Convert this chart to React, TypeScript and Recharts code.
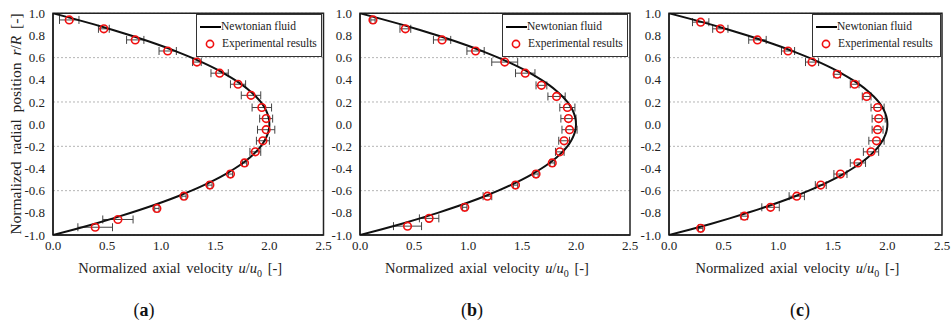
import React from 'react';
import {
  ScatterChart,
  Scatter,
  XAxis,
  YAxis,
  CartesianGrid,
  ErrorBar,
  Legend,
  ReferenceArea,
  Label,
} from 'recharts';

// radial positions r/R, axial velocities u/u0 and half-width of the error bars
const rA = [0.94, 0.86, 0.76, 0.66, 0.56, 0.46, 0.36, 0.26, 0.15, 0.05, -0.05, -0.15, -0.25, -0.35, -0.45, -0.55, -0.65, -0.76, -0.86, -0.93];
const uA = [0.15, 0.47, 0.76, 1.06, 1.33, 1.54, 1.71, 1.83, 1.93, 1.97, 1.97, 1.94, 1.87, 1.77, 1.64, 1.45, 1.21, 0.96, 0.6, 0.39];
const errA = [0.09, 0.05, 0.08, 0.08, 0.04, 0.08, 0.07, 0.09, 0.09, 0.06, 0.08, 0.06, 0.05, 0.02, 0.02, 0.02, 0.02, 0.02, 0.14, 0.16];

const rB = [0.94, 0.86, 0.76, 0.66, 0.56, 0.46, 0.35, 0.25, 0.15, 0.05, -0.05, -0.15, -0.25, -0.35, -0.45, -0.55, -0.65, -0.75, -0.85, -0.92];
const uB = [0.12, 0.42, 0.76, 1.07, 1.34, 1.53, 1.68, 1.82, 1.92, 1.93, 1.94, 1.89, 1.85, 1.78, 1.63, 1.44, 1.18, 0.97, 0.64, 0.44];
const errB = [0.02, 0.05, 0.08, 0.08, 0.12, 0.09, 0.05, 0.08, 0.07, 0.07, 0.07, 0.05, 0.04, 0.02, 0.02, 0.02, 0.04, 0.02, 0.09, 0.13];

const rC = [0.92, 0.86, 0.76, 0.66, 0.56, 0.45, 0.36, 0.25, 0.15, 0.05, -0.05, -0.15, -0.25, -0.35, -0.45, -0.55, -0.65, -0.75, -0.83, -0.94];
const uC = [0.29, 0.47, 0.81, 1.09, 1.31, 1.54, 1.7, 1.81, 1.91, 1.92, 1.91, 1.9, 1.85, 1.73, 1.57, 1.39, 1.17, 0.93, 0.69, 0.29];
const errC = [0.075, 0.07, 0.08, 0.06, 0.06, 0.03, 0.04, 0.04, 0.06, 0.06, 0.05, 0.07, 0.07, 0.07, 0.06, 0.05, 0.07, 0.08, 0.03, 0.02];

// Newtonian (Poiseuille) profile
const newtonR = [-1, -0.95, -0.9, -0.85, -0.8, -0.75, -0.7, -0.65, -0.6, -0.55, -0.5, -0.45, -0.4, -0.35, -0.3, -0.25, -0.2, -0.15, -0.1, -0.05, 0,
  0.05, 0.1, 0.15, 0.2, 0.25, 0.3, 0.35, 0.4, 0.45, 0.5, 0.55, 0.6, 0.65, 0.7, 0.75, 0.8, 0.85, 0.9, 0.95, 1];
const newtonU = [0, 0.195, 0.38, 0.555, 0.72, 0.875, 1.02, 1.155, 1.28, 1.395, 1.5, 1.595, 1.68, 1.755, 1.82, 1.875, 1.92, 1.955, 1.98, 1.995, 2,
  1.995, 1.98, 1.955, 1.92, 1.875, 1.82, 1.755, 1.68, 1.595, 1.5, 1.395, 1.28, 1.155, 1.02, 0.875, 0.72, 0.555, 0.38, 0.195, 0];

const xTicks = [0, 0.5, 1, 1.5, 2, 2.5];
const yTicks = [-1, -0.8, -0.6, -0.4, -0.2, 0, 0.2, 0.4, 0.6, 0.8, 1];
const captions = ['a', 'b', 'c'];

const FONT = "'Liberation Serif', 'Times New Roman', serif";
const RED = '#f01010';

const newtonData = newtonR.map((r, i) => ({ r, u: newtonU[i] }));
const expData = (rs: number[], us: number[], errs: number[]) =>
  rs.map((r, i) => ({ r, u: us[i], err: errs[i] }));

const panels = [
  { data: expData(rA, uA, errA), left: 0, width: 336, yWidth: 53, right: 12.5, legendLeft: 196, legendWidth: 126, captionX: 144, showYTitle: true },
  { data: expData(rB, uB, errB), left: 310, width: 336, yWidth: 50, right: 16, legendLeft: 192, legendWidth: 126, captionX: 472, showYTitle: false },
  { data: expData(rC, uC, errC), left: 620, width: 332, yWidth: 49, right: 10, legendLeft: 192, legendWidth: 129, captionX: 800, showYTitle: false },
];

const XTitle = (props: any) => {
  const { viewBox } = props;
  const cx = viewBox.x + viewBox.width / 2 - 8;
  return (
    <text x={cx} y={273} textAnchor="middle" fontFamily={FONT} fontSize={14.5} fill="#222" style={{ wordSpacing: 2 }}>
      Normalized axial velocity <tspan fontStyle="italic">u</tspan>/<tspan fontStyle="italic">u</tspan>
      <tspan dy={4} fontSize={10}>0</tspan>
      <tspan dy={-4}> [-]</tspan>
    </text>
  );
};

const YTitle = () => (
  <text
    x={21}
    y={124}
    transform="rotate(-90 21 124)"
    textAnchor="middle"
    fontFamily={FONT}
    fontSize={15.5}
    fill="#222"
    style={{ wordSpacing: 3 }}
  >
    Normalized radial position <tspan fontStyle="italic">r</tspan>/<tspan fontStyle="italic">R</tspan> [-]
  </text>
);

const makeLegend = (width: number) => () => (
  <div
    style={{
      width,
      boxSizing: 'border-box',
      border: '1px solid #333',
      background: '#fff',
      fontFamily: FONT,
      fontSize: 11.5,
      color: '#222',
      padding: '3px 1px 4px 3px',
      lineHeight: '17px',
      whiteSpace: 'nowrap',
      overflow: 'hidden',
    }}
  >
    <div style={{ display: 'flex', alignItems: 'center' }}>
      <svg width={21} height={10} style={{ flexShrink: 0 }}>
        <line x1={0} y1={5} x2={21} y2={5} stroke="#000" strokeWidth={2} />
      </svg>
      <span>Newtonian fluid</span>
    </div>
    <div style={{ display: 'flex', alignItems: 'center' }}>
      <svg width={22} height={10} style={{ flexShrink: 0 }}>
        <circle cx={10} cy={5} r={3.6} fill="none" stroke={RED} strokeWidth={1.6} />
      </svg>
      <span>Experimental results</span>
    </div>
  </div>
);

const RingDot = (props: any) => (
  <circle cx={props.cx} cy={props.cy} r={3.8} fill="none" stroke={RED} strokeWidth={1.6} />
);

const NoDot = () => <g />;

const tickStyle = { fontFamily: FONT, fontSize: 13, fill: '#222' };

export default function App() {
  return (
    <div style={{ position: 'absolute', left: 0, top: 0, width: 952, height: 325, background: '#fff' }}>
      {panels.map((p, idx) => (
        <div key={idx} style={{ position: 'absolute', left: p.left, top: 0, width: p.width, height: 325 }}>
          <ScatterChart
            width={p.width}
            height={325}
            margin={{ top: 13.3, right: p.right, left: 0, bottom: 50 }}
          >
            <CartesianGrid vertical={false} stroke="#b5b5b5" strokeDasharray="2 2" />
            <XAxis
              type="number"
              dataKey="u"
              domain={[0, 2.5]}
              ticks={xTicks}
              tickFormatter={(v: number) => v.toFixed(1)}
              tick={tickStyle}
              tickLine={false}
              tickSize={4}
              axisLine={{ stroke: '#222', strokeWidth: 1.5 }}
              height={40}
              allowDataOverflow
            >
              <Label content={XTitle} />
            </XAxis>
            <YAxis
              type="number"
              dataKey="r"
              domain={[-1, 1]}
              ticks={yTicks}
              tickFormatter={(v: number) => v.toFixed(1)}
              tick={tickStyle}
              tickLine={false}
              tickSize={5}
              tickMargin={3}
              axisLine={{ stroke: '#222', strokeWidth: 1.5 }}
              width={p.yWidth}
              allowDataOverflow
            >
              {p.showYTitle && <Label content={YTitle} />}
            </YAxis>
            <ReferenceArea x1={0} x2={2.5} y1={-1} y2={1} fill="none" stroke="#222" strokeWidth={1.5} ifOverflow="visible" />
            <Scatter
              data={newtonData}
              line={{ stroke: '#111', strokeWidth: 2 }}
              lineJointType="monotoneY"
              shape={NoDot}
              isAnimationActive={false}
              legendType="none"
            />
            <Scatter data={p.data} shape={RingDot} isAnimationActive={false}>
              <ErrorBar dataKey="err" direction="x" width={4} stroke="#444" strokeWidth={1} />
            </Scatter>
            <Legend
              layout="vertical"
              align="center"
              verticalAlign="middle"
              content={makeLegend(p.legendWidth)}
              wrapperStyle={{ position: 'absolute', top: 14, left: p.legendLeft, right: 'auto', width: p.legendWidth }}
            />
          </ScatterChart>
          <div
            style={{
              position: 'absolute',
              left: p.captionX - p.left - 30,
              width: 60,
              top: 300,
              textAlign: 'center',
              fontFamily: FONT,
              fontSize: 18,
              color: '#111',
            }}
          >
            (<b>{captions[idx]}</b>)
          </div>
        </div>
      ))}
    </div>
  );
}
